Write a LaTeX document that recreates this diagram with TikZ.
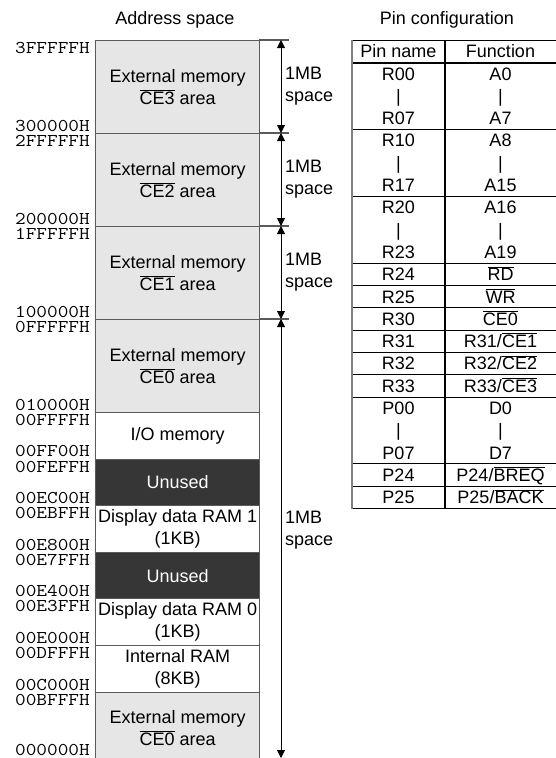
\documentclass[tikz,border=0pt]{standalone}
\usepackage{graphicx}
\usepackage{fontspec}
\setmainfont{Liberation Sans}
\usetikzlibrary{arrows.meta}
\newcommand{\ovl}[1]{$\overline{\hbox{#1}}$}
\newcommand{\addr}[1]{\scalebox{1.15}[1]{\ttfamily #1}}
\definecolor{extgray}{HTML}{E6E6E6}
\definecolor{darkfill}{HTML}{363636}
\definecolor{bordergray}{HTML}{5A5A5A}
\begin{document}
\begin{tikzpicture}[x=1pt,y=-1pt,
  every node/.style={font=\fontsize{18}{22}\selectfont, inner sep=0pt},
  memblock/.style={draw=bordergray, line width=1.3pt, minimum width=164pt,
    anchor=north west, align=center},
  extblock/.style={memblock, fill=extgray},
  whiteblock/.style={memblock, fill=white},
  darkblock/.style={memblock, fill=darkfill, text=white},
  sepline/.style={draw=bordergray, line width=1.3pt},
  dimarrow/.style={draw=black, line width=0.9pt,
    {Triangle[length=8pt,width=8pt]}-{Triangle[length=8pt,width=8pt]}},
  tline/.style={draw=black, line width=1pt},
]
\useasboundingbox (0,0) rectangle (556,758);

% titles
\node (t1) at (175,20) {Address space};
\node (t2) at (447,20) {Pin configuration};

% memory blocks
\node[extblock, minimum height=93pt] (ce3) at (95,40) {External memory\\\ovl{CE3} area};
\node[extblock, minimum height=93pt] (ce2) at (95,133) {External memory\\\ovl{CE2} area};
\node[extblock, minimum height=93pt] (ce1) at (95,226) {External memory\\\ovl{CE1} area};
\node[extblock, minimum height=93pt] (ce0a) at (95,319) {External memory\\\ovl{CE0} area};
\node[whiteblock, minimum height=46.5pt] (io) at (95,412) {I/O memory};
\node[darkblock, minimum height=46.5pt] (un1) at (95,458.5) {Unused};
\node[whiteblock, minimum height=46.5pt] (dr1) at (95,505) {Display data RAM 1\\(1KB)};
\node[darkblock, minimum height=46.5pt] (un0) at (95,552) {Unused};
\node[whiteblock, minimum height=46.5pt] (dr0) at (95,598) {Display data RAM 0\\(1KB)};
\node[whiteblock, minimum height=46.5pt] (iram) at (95,645) {Internal RAM\\(8KB)};
\node[extblock, minimum height=70pt] (ce0b) at (95,692) {External memory\\\ovl{CE0} area};

% extended separator lines
\foreach \yy in {40,133,226,319} {
  \draw[sepline] (259,\yy) -- (289,\yy);
}

% address labels
\foreach \yy/\txt in {40/3FFFFFH,133/2FFFFFH,226/1FFFFFH,319/0FFFFFH,412/00FFFFH,
  458.5/00FEFFH,505/00EBFFH,552/00E7FFH,598/00E3FFH,645/00DFFFH,692/00BFFFH} {
  \node[anchor=east] (h\txt) at (90,\yy+8) {\addr{\txt}};
}
\foreach \yy/\txt in {133/300000H,226/200000H,319/100000H,412/010000H,458.5/00FF00H,
  505/00EC00H,552/00E800H,598/00E400H,645/00E000H,692/00C000H,757/000000H} {
  \node[anchor=east] (l\txt) at (90,\yy-7.5) {\addr{\txt}};
}

% dimension arrows
\coordinate (d0) at (281,40);
\coordinate (d1) at (281,133);
\coordinate (d2) at (281,226);
\coordinate (d3) at (281,319);
\coordinate (d4) at (281,758);
\draw[dimarrow] (d0) -- (d1);
\draw[dimarrow] (d1) -- (d2);
\draw[dimarrow] (d2) -- (d3);
\draw[dimarrow] (d3) -- (d4);

\node[anchor=west, align=left] (s1) at (285,86.5) {1MB\\space};
\node[anchor=west, align=left] (s2) at (285,179.5) {1MB\\space};
\node[anchor=west, align=left] (s3) at (285,272.5) {1MB\\space};
\node[anchor=west, align=left] (s4) at (285,530) {1MB\\space};

% pin table
\node[anchor=base] (hp) at (398.5,57.7) {Pin name};
\node[anchor=base] (hf) at (500.5,57.7) {Function};
\foreach \p/\f [count=\i from 0] in {R00/A0,|/|,R07/A7,R10/A8,|/|,R17/A15,R20/A16,|/|,R23/A19,
  R24/{\ovl{RD}},R25/{\ovl{WR}},R30/{\ovl{CE0}},R31/{R31/\ovl{CE1}},R32/{R32/\ovl{CE2}},
  R33/{R33/\ovl{CE3}},P00/D0,|/|,P07/D7,P24/{P24/\ovl{BREQ}},P25/{P25/\ovl{BACK}}} {
  \pgfmathsetmacro\yc{62.5+22.3*\i+11.15+6.4}
  \node[anchor=base] (pin\i) at (398.5,\yc) {\p};
  \node[anchor=base] (fn\i) at (500.5,\yc) {\f};
}
\draw[tline] (352,40) -- (556,40);
\draw[draw=black, line width=2pt] (352,62.5) -- (556,62.5);
\foreach \k in {3,6,9,10,11,12,13,14,15,18,19,20} {
  \pgfmathsetmacro\yl{62.5+22.3*\k}
  \draw[tline] (352,\yl) -- (556,\yl);
}
\draw[draw=gray, line width=2pt] (352,39.5) -- (352,509);
\draw[draw=black, line width=1.3pt] (445,40) -- (445,508.5);
\end{tikzpicture}
\end{document}
